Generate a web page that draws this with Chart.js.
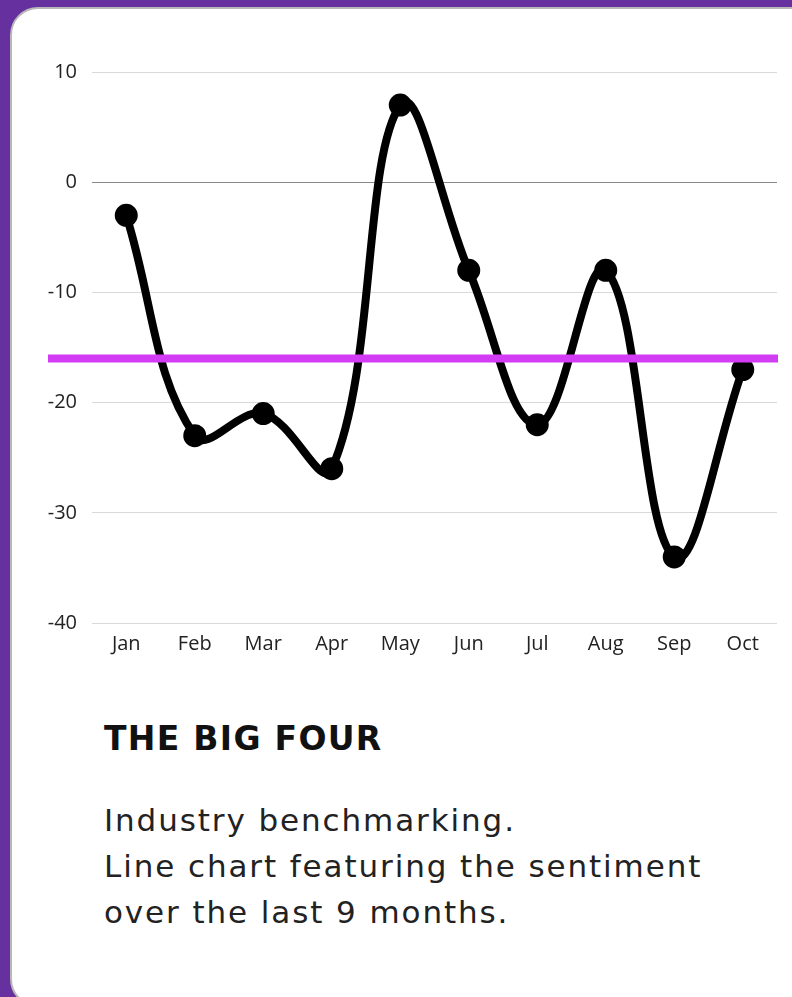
<!DOCTYPE html>
<html>
<head>
<meta charset="utf-8">
<script src="https://cdn.jsdelivr.net/npm/chart.js@4.4.0/dist/chart.umd.min.js"></script>
<style>
    body { margin: 0; width: 792px; height: 997px; overflow: hidden; background: #66309e; position: relative; }
    .card { position: absolute; left: 10px; top: 7px; width: 830px; height: 996px; background: #fff;
            border: 2px solid #b8b8b8; border-radius: 28px; }
    #wrap { position: absolute; left: 44px; top: 45px; width: 746px; height: 623px; }
    h2 { position: absolute; left: 104px; top: 721px; margin: 0; font-family: "DejaVu Sans"; font-weight: bold;
         font-size: 33px; line-height: 36px; letter-spacing: 1.3px; color: #111; }
    p { position: absolute; left: 104px; top: 797px; margin: 0; font-family: "DejaVu Sans"; font-size: 31px;
        line-height: 46px; letter-spacing: 1.9px; color: #222; }
</style>
</head>
<body>
<div class="card"></div>
<div id="wrap"><canvas id="chart"></canvas></div>
<h2>THE BIG FOUR</h2>
<p>Industry benchmarking.<br>Line chart featuring the sentiment<br>over the last 9 months.</p>
<script>
var months = ["Jan", "Feb", "Mar", "Apr", "May", "Jun", "Jul", "Aug", "Sep", "Oct"]
var sentiment = [-3, -23, -21, -26, 7, -8, -22, -8, -34, -17]
var benchmark = -16
var yMin = -40, yMax = 10, yStep = 10

// purple benchmark line, drawn over the data
var benchmarkLine = {
    id: "benchmarkLine",
    afterDatasetsDraw: function(chart) {
        var ctx = chart.ctx
        var y = chart.scales.y.getPixelForValue(benchmark)
        ctx.save()
        ctx.strokeStyle = "#d23cf2"
        ctx.lineWidth = 8
        ctx.beginPath()
        ctx.moveTo(4, y)
        ctx.lineTo(chart.chartArea.right + 1, y)
        ctx.stroke()
        ctx.restore()
    }
}

new Chart(document.getElementById("chart"), {
    type: "line",
    data: {
        labels: months,
        datasets: [{
            data: sentiment,
            borderColor: "#000",
            backgroundColor: "#000",
            borderWidth: 8,
            tension: 0.4,
            pointRadius: 10,
            pointBorderWidth: 3,
            pointBackgroundColor: "#000",
            pointBorderColor: "#000"
        }]
    },
    options: {
        responsive: true,
        maintainAspectRatio: false,
        animation: false,
        layout: { padding: { top: 20, right: 0, left: 0, bottom: 0 } },
        plugins: { legend: { display: false }, tooltip: { enabled: false } },
        scales: {
            x: {
                offset: true,
                grid: { display: false },
                border: { display: false },
                ticks: { color: "#222", padding: 1, font: { family: "Open Sans", size: 20 } },
                afterFit: function(scale) { scale.height = 45 }
            },
            y: {
                min: yMin,
                max: yMax,
                ticks: { stepSize: yStep, color: "#222", padding: 15, font: { family: "Open Sans", size: 20 } },
                grid: {
                    drawTicks: false,
                    color: function(c) { return c.tick.value === 0 ? "#8a8a8a" : "#d9d9d9" }
                },
                border: { display: false },
                afterFit: function(scale) { scale.width = 48 }
            }
        }
    },
    plugins: [benchmarkLine]
})
</script>
</body>
</html>
